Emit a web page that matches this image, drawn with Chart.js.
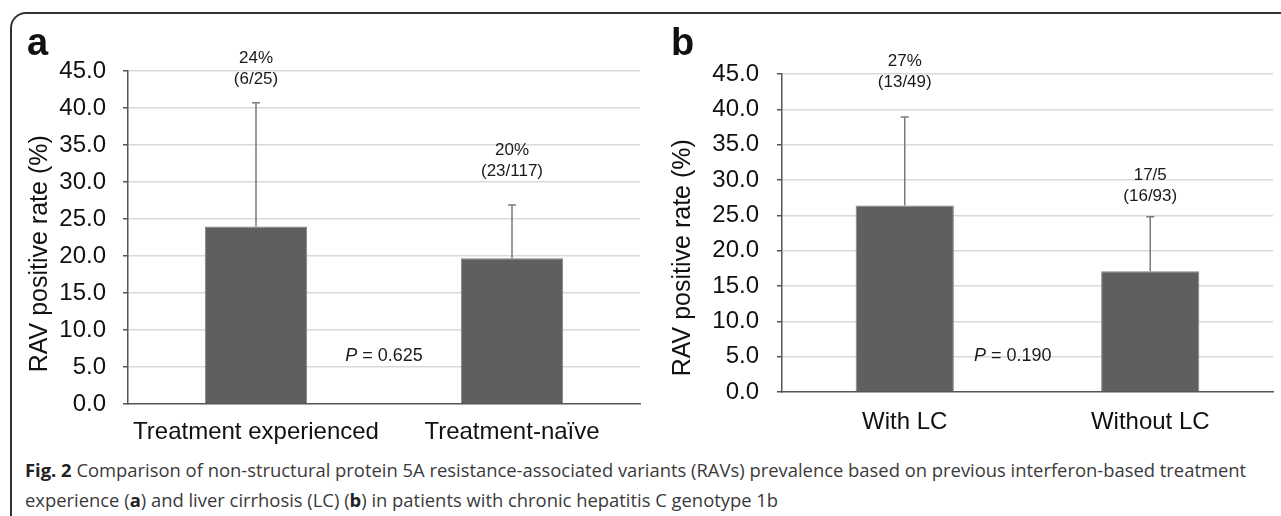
<!DOCTYPE html>
<html>
<head>
<meta charset="utf-8">
<script src="https://cdn.jsdelivr.net/npm/chart.js@4.4.0/dist/chart.umd.min.js"></script>
<style>
  body { margin: 0; background: #fff; width: 1281px; height: 516px; overflow: hidden; position: relative; }
  #frame { position: absolute; left: 10px; top: 12px; width: 1320px; height: 600px; border: 2px solid #333; border-top-left-radius: 16px; box-sizing: border-box; }
  canvas { position: absolute; top: 0; }
  #chartA { left: 0; }
  #chartB { left: 650px; }
  .letter { position: absolute; font: bold 38px "Liberation Sans", Arial, sans-serif; line-height: 38px; color: #111; }
  #caption { position: absolute; left: 25px; top: 455px; font: 18.4px "Open Sans", sans-serif; color: #3a3a3a; line-height: 30px; white-space: nowrap; }
  #caption b { color: #222; }
</style>
</head>
<body>
<div id="frame"></div>
<canvas id="chartA" width="645" height="450"></canvas>
<canvas id="chartB" width="631" height="450"></canvas>
<div class="letter" style="left:27px;top:23px">a</div>
<div class="letter" style="left:671px;top:23px">b</div>
<div id="caption"><b>Fig. 2</b> Comparison of non-structural protein 5A resistance-associated variants (RAVs) prevalence based on previous interferon-based treatment<br>experience (<b>a</b>) and liver cirrhosis (LC) (<b>b</b>) in patients with chronic hepatitis C genotype 1b</div>

<script>
// panel a: previous treatment
const categoriesA = ['Treatment experienced', 'Treatment-naïve'];
const ratesA = [24.0, 19.7];
const upperA = [40.7, 26.9];
const pctLabelsA = ['24%', '20%'];
const fracLabelsA = ['(6/25)', '(23/117)'];
const pValueA = '0.625';

// panel b: liver cirrhosis
const categoriesB = ['With LC', 'Without LC'];
const ratesB = [26.4, 17.1];
const upperB = [38.9, 24.8];
const pctLabelsB = ['27%', '17/5'];
const fracLabelsB = ['(13/49)', '(16/93)'];
const pValueB = '0.190';

const yTickValues = [0, 5, 10, 15, 20, 25, 30, 35, 40, 45];
const yTickLabels = ['0.0', '5.0', '10.0', '15.0', '20.0', '25.0', '30.0', '35.0', '40.0', '45.0'];
const yTitle = 'RAV positive rate (%)';

// where the annotations sit, in axis units
const labelAtA = [43.9, 31.5];
const labelAtB = [43.8, 27.7];
const pAtA = { x: 0.5, y: 6.5 };
const pAtB = { x: 0.44, y: 5.1 };
const titleAtA = 20.3;
const titleAtB = 19.0;

const FONT = '"Liberation Sans", Arial, sans-serif';

// error bars, n/N labels, P value and the y title
const extras = {
  id: 'extras',
  afterDatasetsDraw(chart, args, opts) {
    const { ctx, scales: { x, y } } = chart;
    ctx.save();
    ctx.strokeStyle = '#7a7a7a';
    ctx.lineWidth = 1.5;
    opts.upper.forEach((u, i) => {
      const px = x.getPixelForValue(i);
      const top = y.getPixelForValue(u);
      const base = y.getPixelForValue(opts.values[i]);
      ctx.beginPath();
      ctx.moveTo(px, base);
      ctx.lineTo(px, top);
      ctx.moveTo(px - 4, top);
      ctx.lineTo(px + 4, top);
      ctx.stroke();
    });

    ctx.fillStyle = '#1a1a1a';
    ctx.font = '17px ' + FONT;
    ctx.textAlign = 'center';
    ctx.textBaseline = 'middle';
    opts.fracs.forEach((f, i) => {
      const px = x.getPixelForValue(i);
      const py = y.getPixelForValue(opts.labelAt[i]);
      ctx.fillText(f, px, py);
      ctx.fillText(opts.pcts[i], px, py - 21);
    });

    // P = value, with an italic P
    const px = x.getPixelForValue(opts.pAt.x);
    const py = y.getPixelForValue(opts.pAt.y);
    const rest = ' = ' + opts.p;
    ctx.font = 'italic 18px ' + FONT;
    const wP = ctx.measureText('P').width;
    ctx.font = '18px ' + FONT;
    const wR = ctx.measureText(rest).width;
    const x0 = px - (wP + wR) / 2;
    ctx.textAlign = 'left';
    ctx.font = 'italic 18px ' + FONT;
    ctx.fillText('P', x0, py);
    ctx.font = '18px ' + FONT;
    ctx.fillText(rest, x0 + wP, py);

    // rotated axis title
    ctx.translate(opts.titleX, y.getPixelForValue(opts.titleAt));
    ctx.rotate(-Math.PI / 2);
    ctx.textAlign = 'center';
    ctx.fillStyle = '#111';
    ctx.font = '25px ' + FONT;
    ctx.fillText(yTitle, 0, 0);
    ctx.restore();
  }
};

function makeChart(id, cats, vals, extra, axisW, xAxisH, pad, tickPad, xPad) {
  return new Chart(document.getElementById(id), {
    type: 'bar',
    data: {
      labels: cats,
      datasets: [{
        data: vals,
        backgroundColor: '#5f5f5f',
        borderColor: '#808080',
        borderWidth: 1,
        barPercentage: 0.4,
        categoryPercentage: 1.0
      }]
    },
    options: {
      responsive: false,
      animation: false,
      layout: { padding: pad },
      plugins: {
        legend: { display: false },
        tooltip: { enabled: false },
        extras: extra
      },
      scales: {
        x: {
          grid: { display: false, drawTicks: false },
          border: { color: '#555', width: 1.5 },
          ticks: { color: '#111', font: { family: FONT, size: 24 }, padding: xPad, maxRotation: 0, autoSkip: false },
          afterFit(scale) { scale.height = xAxisH; }
        },
        y: {
          min: 0,
          max: 45,
          afterBuildTicks(scale) { scale.ticks = yTickValues.map(v => ({ value: v })); },
          grid: {
            color: c => (c.tick && c.tick.value === 0 ? 'rgba(0,0,0,0)' : '#d9d9d9'),
            lineWidth: 1.5,
            tickColor: '#555',
            tickLength: 5
          },
          border: { color: '#555', width: 1.5 },
          ticks: {
            color: '#111',
            font: { family: FONT, size: 24 },
            padding: tickPad,
            callback: (v, i) => yTickLabels[i]
          },
          afterFit(scale) { scale.width = axisW; }
        }
      }
    },
    plugins: [extras]
  });
}

makeChart('chartA', categoriesA, ratesA,
  { values: ratesA, upper: upperA, pcts: pctLabelsA, fracs: fracLabelsA, labelAt: labelAtA, pAt: pAtA, p: pValueA, titleX: 40, titleAt: titleAtA },
  128, 46, { top: 71, right: 5, left: 0, bottom: 0 }, 17, 14);

makeChart('chartB', categoriesB, ratesB,
  { values: ratesB, upper: upperB, pcts: pctLabelsB, fracs: fracLabelsB, labelAt: labelAtB, pAt: pAtB, p: pValueB, titleX: 33, titleAt: titleAtB },
  132, 58, { top: 74, right: 8, left: 0, bottom: 0 }, 18, 16);
</script>
</body>
</html>
